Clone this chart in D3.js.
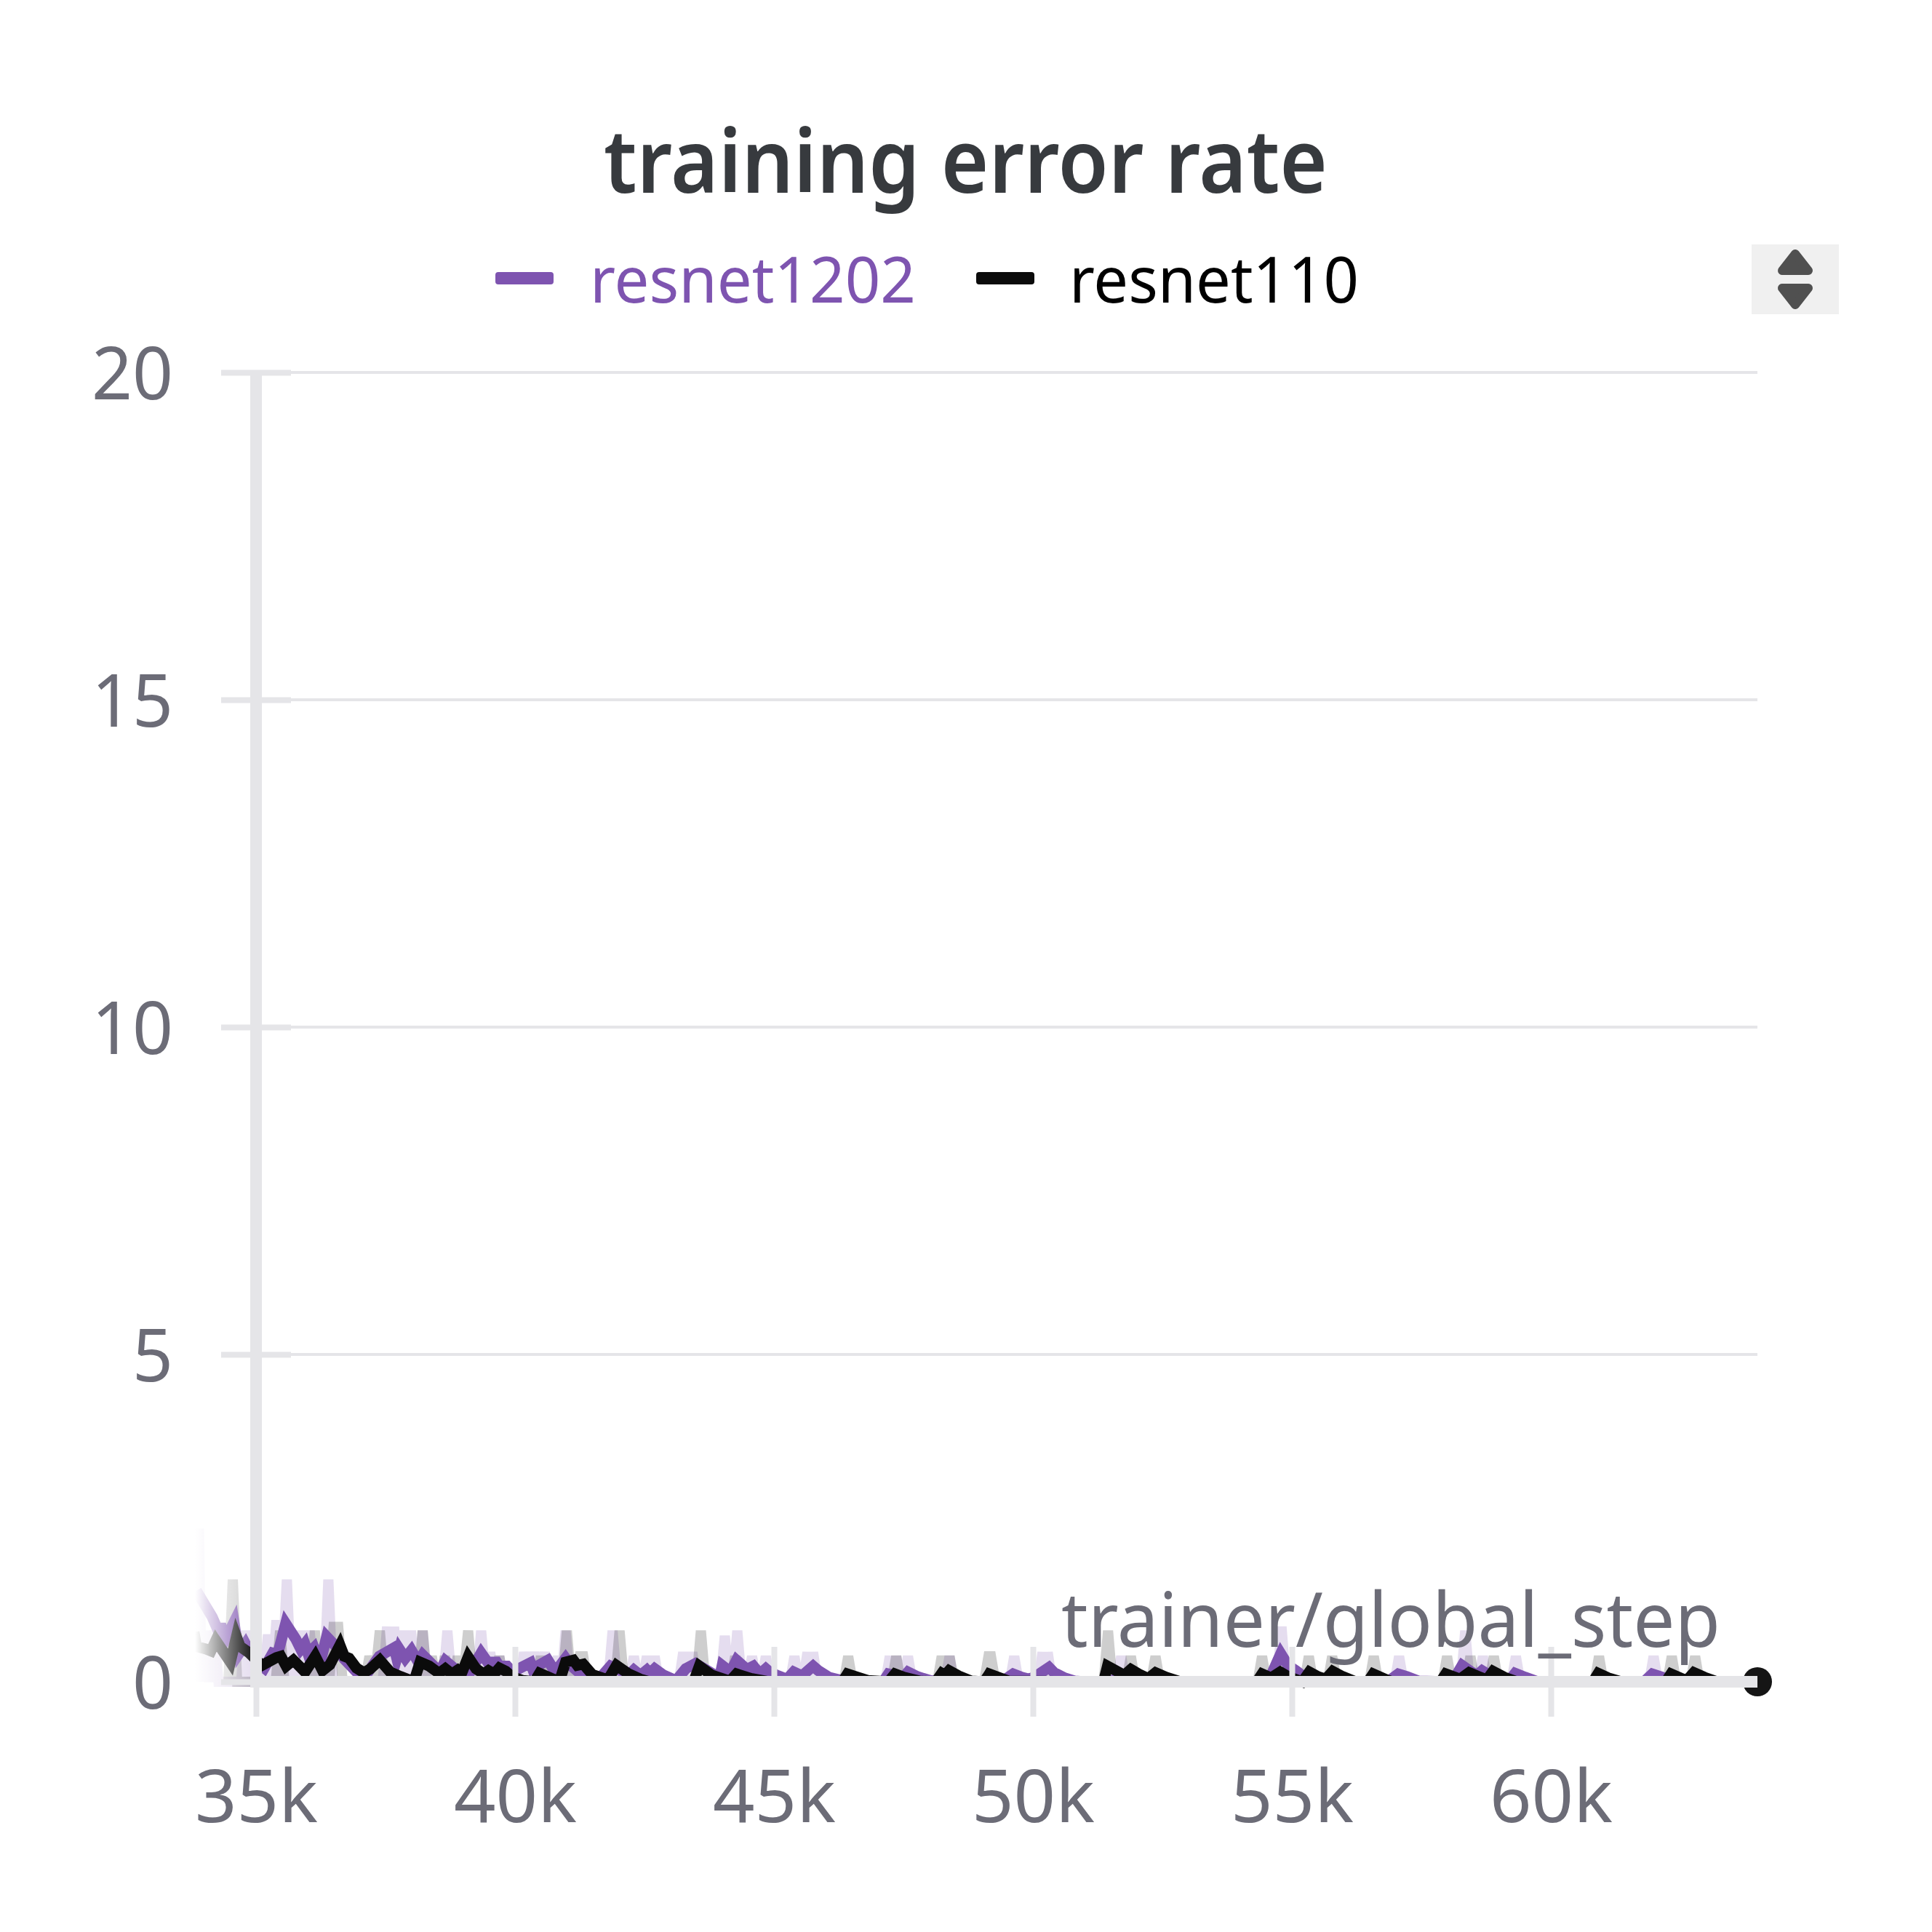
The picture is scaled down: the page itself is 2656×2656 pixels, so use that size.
<!DOCTYPE html>
<html>
<head>
<meta charset="utf-8">
<script src="https://cdn.jsdelivr.net/npm/d3@7"></script>
<style>
  html, body { margin: 0; background: #fff; }
  text { font-family: "Noto Sans", sans-serif; }
</style>
</head>
<body>
<svg id="chart" width="2656" height="2656"></svg>
<script>
const xTicks = [35000, 40000, 45000, 50000, 55000, 60000];
const yTicks = [0, 5, 10, 15, 20];
const lastStep = 63989;

// raw readings, the faint lines. zero between the spikes
const purpleRawSteps = [33895, 34000, 34190, 34794, 35230, 35393, 35595, 35885, 36035, 36396, 37530, 37665, 37816, 37992, 38217, 38694, 39346, 39521, 39697, 40174, 40374, 40575, 40826, 40976, 41884, 42295, 42546, 42696, 43248, 43424, 44051, 44292, 44577, 44843, 45395, 45646, 45756, 47236, 47361, 47587, 48390, 49639, 50185, 50286, 51705, 54800, 57070, 58347, 58688, 59325, 61984];
const purpleRawValues = [2.34, 0.78, 0.78, 0.78, 0.72, 0.94, 1.56, 0.78, 0.78, 1.56, 0.84, 0.84, 0.78, 0.78, 0.78, 0.78, 0.78, 0.45, 0.39, 0.45, 0.45, 0.45, 0.39, 0.78, 0.78, 0.39, 0.39, 0.39, 0.45, 0.45, 0.7, 0.78, 0.39, 0.39, 0.39, 0.45, 0.45, 0.39, 0.39, 0.39, 0.39, 0.39, 0.45, 0.45, 0.39, 0.84, 0.39, 0.78, 0.39, 0.39, 0.39];
const blackRawSteps = [34551, 35464, 36135, 36497, 36587, 37189, 37390, 38217, 38393, 38644, 38895, 39095, 39697, 40500, 41001, 41252, 41317, 42019, 43589, 44251, 46433, 47361, 48239, 48390, 49142, 49190, 51450, 51891, 52367, 54424, 55327, 55778, 56581, 57996, 58447, 58899, 60930, 62335, 62786];
const blackRawValues = [1.56, 0.78, 0.78, 0.84, 0.84, 0.39, 0.78, 0.78, 0.39, 0.39, 0.39, 0.78, 0.39, 0.39, 0.78, 0.39, 0.39, 0.78, 0.78, 0.39, 0.39, 0.39, 0.39, 0.39, 0.39, 0.39, 0.78, 0.39, 0.39, 0.39, 0.39, 0.39, 0.39, 0.39, 0.39, 0.39, 0.39, 0.39, 0.39];

// smoothed lines
const purpleSteps = [33848, 34153, 34246, 34340, 34410, 34574, 34668, 34794, 34878, 35113, 35159, 35323, 35417, 35572, 35768, 35862, 35941, 36003, 36119, 36236, 36363, 36541, 36700, 36940, 37100, 37380, 37666, 37716, 37766, 37881, 38000, 38132, 38217, 38368, 38543, 38654, 38819, 38945, 39095, 39346, 39471, 39647, 39697, 39847, 39938, 40073, 40299, 40339, 40635, 40775, 40976, 41076, 41192, 41292, 41600, 41844, 42044, 42195, 42295, 42421, 42546, 42606, 42696, 42872, 43047, 43123, 43298, 43484, 43650, 43950, 44000, 44161, 44277, 44477, 44603, 44728, 44843, 44933, 45054, 45254, 45380, 45541, 45756, 45857, 46057, 46258, 46560, 47110, 47210, 47386, 47487, 47587, 47763, 48013, 48250, 49400, 49618, 49784, 49934, 50085, 50311, 50411, 50612, 50812, 51000, 51500, 51715, 51966, 52300, 54400, 54600, 54785, 54925, 55076, 55226, 55500, 55600, 56850, 57053, 57219, 57444, 58100, 58287, 58447, 58573, 58673, 58799, 59000, 59200, 59310, 59500, 59752, 61800, 61959, 62184, 62410, 63989];
const purpleValues = [1.39, 0.99, 0.82, 0.82, 0.65, 0.91, 0.43, 0.58, 0.45, 0.24, 0.21, 0.44, 0.42, 0.89, 0.65, 0.5, 0.58, 0.43, 0.52, 0.28, 0.69, 0.54, 0.35, 0.15, 0.08, 0.39, 0.52, 0.36, 0.5, 0.36, 0.48, 0.3, 0.41, 0.29, 0.15, 0.32, 0.21, 0.15, 0.1, 0.44, 0.3, 0.3, 0.24, 0.24, 0.16, 0.2, 0.29, 0.2, 0.33, 0.15, 0.36, 0.25, 0.17, 0.1, 0.02, 0.24, 0.17, 0.1, 0.18, 0.1, 0.18, 0.13, 0.2, 0.1, 0.04, 0.03, 0.2, 0.28, 0.2, 0.06, 0.25, 0.15, 0.33, 0.19, 0.24, 0.12, 0.2, 0.14, 0.1, 0.04, 0.15, 0.09, 0.24, 0.17, 0.07, 0.03, 0, 0, 0.12, 0.09, 0.06, 0.15, 0.08, 0.02, 0, 0, 0.12, 0.07, 0.04, 0.1, 0.22, 0.14, 0.06, 0.01, 0, 0, 0.1, 0.04, 0, 0, 0.1, 0.43, 0.25, 0.17, 0.08, 0.02, 0, 0, 0.12, 0.08, 0.01, 0, 0.25, 0.16, 0.1, 0.17, 0.11, 0.05, 0.02, 0.13, 0.07, 0, 0, 0.12, 0.06, 0.01, 0];
const blackSteps = [33802, 33848, 34036, 34129, 34223, 34504, 34621, 34691, 34855, 35113, 35323, 35394, 35478, 35581, 35721, 35946, 36143, 36283, 36424, 36620, 36704, 36798, 36939, 37079, 37196, 37390, 37590, 37791, 38017, 38067, 38167, 38343, 38533, 38654, 38784, 38895, 38970, 39095, 39246, 39396, 39487, 39597, 39697, 39823, 39938, 40149, 40374, 40474, 40650, 40800, 40876, 40976, 41127, 41202, 41317, 41493, 41794, 41959, 42195, 42421, 42596, 43449, 43559, 43800, 44151, 44277, 44552, 44903, 46323, 46418, 46609, 46810, 47210, 47336, 47512, 47813, 48124, 48239, 48300, 48380, 48565, 48816, 49057, 49142, 49157, 49358, 49533, 51364, 51439, 51765, 51891, 52041, 52227, 52367, 52568, 52844, 54324, 54424, 54600, 54775, 54925, 55201, 55337, 55502, 55653, 55788, 55979, 56230, 56470, 56570, 56831, 56943, 57871, 57971, 58247, 58422, 58698, 58773, 58884, 59100, 59350, 60815, 60915, 61106, 61357, 62220, 62320, 62586, 62636, 62761, 62962, 63213, 63989];
const blackValues = [0.76, 0.54, 0.5, 0.47, 0.63, 0.3, 0.69, 0.54, 0.45, 0.25, 0.34, 0.37, 0.39, 0.24, 0.33, 0.15, 0.39, 0.17, 0.26, 0.56, 0.39, 0.36, 0.21, 0.14, 0.19, 0.33, 0.15, 0.08, 0.01, 0.05, 0.3, 0.24, 0.13, 0.2, 0.12, 0.18, 0.13, 0.38, 0.2, 0.12, 0.17, 0.12, 0.21, 0.16, 0.08, 0.02, 0, 0.13, 0.07, 0.02, 0.05, 0.3, 0.33, 0.25, 0.27, 0.11, 0.03, 0.25, 0.12, 0.04, 0, 0, 0.24, 0.1, 0.01, 0.12, 0.05, 0, 0, 0.12, 0.07, 0.02, 0, 0.12, 0.07, 0.01, 0, 0.13, 0.1, 0.17, 0.09, 0.01, 0, 0.1, 0.12, 0.06, 0.01, 0, 0.24, 0.1, 0.19, 0.12, 0.05, 0.14, 0.07, 0, 0, 0.12, 0.06, 0.15, 0.08, 0, 0.15, 0.08, 0.04, 0.16, 0.08, 0, 0, 0.12, 0.03, 0, 0, 0.12, 0.04, 0.14, 0.05, 0.04, 0.16, 0.07, 0, 0, 0.13, 0.06, 0, 0, 0.12, 0.03, 0.03, 0.14, 0.07, 0, 0];

const purple = "#7e54b0";
const black = "#0b0b0b";
const axisGrey = "#e5e5e8";
const labelGrey = "#6c6c77";

const svg = d3.select("#chart");
const x = d3.scaleLinear().domain([35000, 60000]).range([352, 2132]);
const y = d3.scaleLinear().domain([0, 20]).range([2312, 512]);

// grid first, everything else sits on it
svg.append("g")
    .selectAll("line")
    .data(yTicks)
    .join("line")
        .attr("x1", 400)
        .attr("x2", x(lastStep))
        .attr("y1", d => y(d))
        .attr("y2", d => y(d))
        .attr("stroke", axisGrey)
        .attr("stroke-width", 4);

// puts the line back on zero either side of a spike
function withBaseline(steps, values) {
    const pts = [];
    steps.forEach((s, i) => {
        const gapBefore = i === 0 ? Infinity : s - steps[i - 1];
        const gapAfter = i === steps.length - 1 ? Infinity : steps[i + 1] - s;
        if (gapBefore > 210) pts.push([s - 84, 0]);
        pts.push([s, values[i]]);
        if (gapAfter > 210) pts.push([s + 84, 0]);
        else if (gapAfter > 100) pts.push([s + gapAfter / 2, 0]);
    });
    return pts;
}

const line = d3.line().x(d => x(d[0])).y(d => y(d[1]));
const lines = svg.append("g")
    .attr("fill", "none")
    .attr("stroke-linejoin", "miter")
    .attr("stroke-miterlimit", 4);

lines.append("path")
    .attr("d", line(withBaseline(purpleRawSteps, purpleRawValues)))
    .attr("stroke", purple).attr("stroke-opacity", 0.2).attr("stroke-width", 14);
lines.append("path")
    .attr("d", line(withBaseline(blackRawSteps, blackRawValues)))
    .attr("stroke", black).attr("stroke-opacity", 0.2).attr("stroke-width", 14);
lines.append("path")
    .attr("d", line(purpleSteps.map((s, i) => [s, purpleValues[i]])))
    .attr("stroke", purple).attr("stroke-width", 15);
lines.append("path")
    .attr("d", line(blackSteps.map((s, i) => [s, blackValues[i]])))
    .attr("stroke", black).attr("stroke-width", 15);

// left edge of the lines fades out
const defs = svg.append("defs");
const fade = defs.append("linearGradient").attr("id", "fade");
fade.append("stop").attr("offset", 0.25).attr("stop-color", "#fff").attr("stop-opacity", 1);
fade.append("stop").attr("offset", 1).attr("stop-color", "#fff").attr("stop-opacity", 0);
svg.append("rect")
    .attr("x", 240).attr("y", 1900)
    .attr("width", 112).attr("height", 430)
    .attr("fill", "url(#fade)");

// end dot goes under the axis band
svg.append("circle")
    .attr("cx", x(lastStep)).attr("cy", y(0)).attr("r", 20)
    .attr("fill", "#151515");

// axis bands
svg.append("rect")
    .attr("x", x(35000) - 8).attr("y", y(20))
    .attr("width", 16).attr("height", y(0) - y(20))
    .attr("fill", axisGrey);
svg.append("rect")
    .attr("x", x(35000) - 8).attr("y", y(0) - 8)
    .attr("width", x(lastStep) - x(35000) + 8).attr("height", 16)
    .attr("fill", axisGrey);

const xAxis = svg.append("g")
    .attr("transform", `translate(0,${y(0)})`)
    .call(d3.axisBottom(x).tickValues(xTicks).tickFormat(d => d / 1000 + "k").tickSize(48).tickSizeOuter(0));
xAxis.select(".domain").remove();
xAxis.selectAll(".tick line")
    .attr("y1", -48).attr("y2", 48)
    .attr("stroke", axisGrey).attr("stroke-width", 8);
xAxis.selectAll(".tick text")
    .attr("y", 193).attr("dy", null)
    .attr("font-size", 101).attr("fill", labelGrey)
    .attr("font-family", null)
    .attr("textLength", 169).attr("lengthAdjust", "spacingAndGlyphs");

const yAxis = svg.append("g")
    .attr("transform", `translate(${x(35000)},0)`)
    .call(d3.axisLeft(y).tickValues(yTicks).tickSize(48).tickSizeOuter(0));
yAxis.select(".domain").remove();
yAxis.selectAll(".tick line")
    .attr("x1", -48).attr("x2", 48)
    .attr("stroke", axisGrey).attr("stroke-width", 8);
yAxis.selectAll(".tick text")
    .attr("x", -114).attr("y", 36).attr("dy", null)
    .attr("font-size", 101).attr("fill", labelGrey)
    .attr("font-family", null)
    .attr("textLength", d => String(d).length * 56).attr("lengthAdjust", "spacingAndGlyphs");

// text
function label(str, left, width, base, size, color, weight) {
    svg.append("text")
        .attr("x", left).attr("y", base)
        .attr("font-size", size).attr("fill", color)
        .attr("font-weight", weight || 400)
        .attr("textLength", width).attr("lengthAdjust", "spacingAndGlyphs")
        .text(str);
}
label("training error rate", 830, 995, 265, 122, "#373a3e", 600);
label("resnet1202", 811, 448, 416, 87, purple);
label("resnet110", 1470, 398, 416, 87, "#000");
label("trainer/global_step", 1459, 906, 2264, 105, labelGrey);

// legend swatches
svg.append("rect").attr("x", 681).attr("y", 374).attr("width", 80).attr("height", 17).attr("rx", 4).attr("fill", purple);
svg.append("rect").attr("x", 1342).attr("y", 374).attr("width", 80).attr("height", 17).attr("rx", 4).attr("fill", black);

// legend paging control
svg.append("rect").attr("x", 2408).attr("y", 336).attr("width", 120).attr("height", 96).attr("fill", "#f0f0f0");
const arrows = [[[2468, 349], [2450, 372], [2486, 372]], [[2450, 396], [2486, 396], [2468, 419]]];
svg.append("g").selectAll("path")
    .data(arrows)
    .join("path")
        .attr("d", d => d3.line()(d) + "Z")
        .attr("fill", "#505050").attr("stroke", "#505050")
        .attr("stroke-width", 12).attr("stroke-linejoin", "round");
</script>
</body>
</html>
